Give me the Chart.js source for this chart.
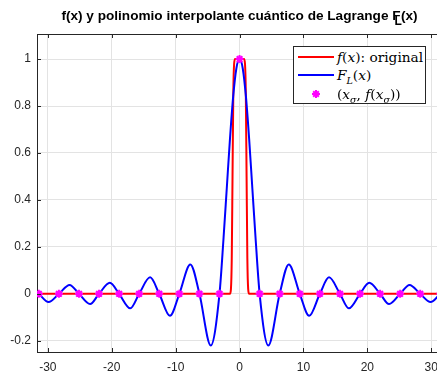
<!DOCTYPE html>
<html>
<head>
<meta charset="utf-8">
<script src="https://cdn.jsdelivr.net/npm/chart.js@4"></script>
<style>
  html, body { margin: 0; padding: 0; background: #fff; overflow: hidden; }
  #wrap { position: relative; width: 437px; height: 374px; overflow: hidden; }
  #holder { position: absolute; left: 0; top: 0; width: 437px; height: 374px; }
  #title {
    position: absolute; top: 8px; left: 0; width: 479px; text-align: center;
    font: bold 13.6px "Liberation Sans", Arial, sans-serif; color: #000; white-space: nowrap;
  }
  #title sub { font-size: 12px; vertical-align: -5px; line-height: 0; margin-left: -6px; margin-right: -1px; }
  #legend {
    position: absolute; left: 293px; top: 46px; width: 133px; height: 58px;
    border: 1px solid #262626; background: #fff; box-sizing: border-box;
    font: 13.7px "DejaVu Serif", "Liberation Serif", serif; color: #000;
  }
  .row { position: absolute; left: 0; width: 100%; height: 18px; }
  .swatch { position: absolute; left: 4px; width: 36px; height: 2px; top: 8px; }
  .lbl { position: absolute; left: 43px; top: 0; line-height: 18px; white-space: nowrap; }
  .lbl sub { font-size: 9.5px; line-height: 0; }
  .mark { position: absolute; left: 17px; top: 4px; }
</style>
</head>
<body>
<div id="wrap">
  <div id="holder"><canvas id="plot" width="437" height="374"></canvas></div>
  <div id="title">f(x) y polinomio interpolante cuántico de Lagrange F<sub>L</sub>(x)</div>
  <div id="legend">
    <div class="row" style="top:1px">
      <div class="swatch" style="background:#ff0000"></div>
      <div class="lbl"><i>f</i>(<i>x</i>): original</div>
    </div>
    <div class="row" style="top:19px">
      <div class="swatch" style="background:#0000ff"></div>
      <div class="lbl"><i>F<sub>L</sub></i>(<i>x</i>)</div>
    </div>
    <div class="row" style="top:38px">
      <svg class="mark" width="10" height="10" viewBox="0 0 10 10">
        <g stroke="#ff00ff" stroke-width="2">
          <line x1="5" y1="1" x2="5" y2="9"/><line x1="1" y1="5" x2="9" y2="5"/>
          <line x1="2.2" y1="2.2" x2="7.8" y2="7.8"/><line x1="7.8" y1="2.2" x2="2.2" y2="7.8"/>
        </g>
      </svg>
      <div class="lbl">(<i>x<sub>σ</sub></i>, <i>f</i>(<i>x<sub>σ</sub></i>))</div>
    </div>
  </div>
</div>
<script>
// interpolation nodes
const nodeX = [-31.42, -28.27, -25.13, -21.99, -18.85, -15.71, -12.57, -9.42, -6.28, -3.14, 0,
               3.14, 6.28, 9.42, 12.57, 15.71, 18.85, 21.99, 25.13, 28.27, 31.42];
const nodeY = [0, 0, 0, 0, 0, 0, 0, 0, 0, 0, 1, 0, 0, 0, 0, 0, 0, 0, 0, 0, 0];

// original function f(x): narrow pulse around 0
const fX = [-31.42, -1.5, -1.35, -1.22, -1.1, -0.98, -0.85, -0.7, 0.7, 0.85, 0.98, 1.1, 1.22, 1.35, 1.5, 31.42];
const fY = [0, 0, 0.02, 0.15, 0.5, 0.85, 0.98, 1, 1, 0.98, 0.85, 0.5, 0.15, 0.02, 0, 0];

// interpolant F_L(x): zeros and extrema
const interpX = [-31.42, -29.9, -28.27, -26.6, -25.13, -23.4, -21.99, -20.3, -18.85, -17.1, -15.71, -14.0,
                 -12.57, -10.9, -9.42, -7.7, -6.28, -4.5, -3.14, -2.5, -2, -1.5, -1, -0.5, 0,
                 0.5, 1, 1.5, 2, 2.5, 3.14, 4.5, 6.28, 7.7, 9.42, 10.9, 12.57, 14.0, 15.71,
                 17.1, 18.85, 20.3, 21.99, 23.4, 25.13, 26.6, 28.27, 29.9, 31.42];
const interpY = [0, -0.035, 0, 0.038, 0, -0.044, 0, 0.047, 0, -0.062, 0, 0.07,
                 0, -0.094, 0, 0.125, 0, -0.22, 0, 0.24, 0.45, 0.66, 0.84, 0.96, 1,
                 0.96, 0.84, 0.66, 0.45, 0.24, 0, -0.22, 0, 0.125, 0, -0.094, 0, 0.07, 0,
                 -0.062, 0, 0.047, 0, -0.044, 0, 0.038, 0, -0.035, 0];

const xTicks = [-30, -20, -10, 0, 10, 20, 30];
const yTicks = [-0.2, 0, 0.2, 0.4, 0.6, 0.8, 1];

function pts(xs, ys) {
    return xs.map((x, i) => ({ x: x, y: ys[i] }));
}

const axisColor = '#262626';

// top border plus inward tick marks
const frameTicks = {
    id: 'frameTicks',
    afterDraw(chart) {
        const ctx = chart.ctx;
        const a = chart.chartArea;
        const sx = chart.scales.x, sy = chart.scales.y;
        ctx.save();
        ctx.strokeStyle = axisColor;
        ctx.lineWidth = 1;
        ctx.beginPath();
        ctx.moveTo(a.left, a.top + 0.5);
        ctx.lineTo(a.right, a.top + 0.5);
        xTicks.forEach(t => {
            const px = Math.round(sx.getPixelForValue(t)) + 0.5;
            ctx.moveTo(px, a.bottom);
            ctx.lineTo(px, a.bottom - 4);
            ctx.moveTo(px, a.top);
            ctx.lineTo(px, a.top + 4);
        });
        yTicks.forEach(t => {
            const py = Math.round(sy.getPixelForValue(t)) + 0.5;
            ctx.moveTo(a.left, py);
            ctx.lineTo(a.left + 4, py);
        });
        ctx.stroke();
        ctx.restore();
    }
};

new Chart(document.getElementById('plot'), {
    type: 'line',
    data: {
        datasets: [
            {
                label: '(x_σ, f(x_σ))',
                data: pts(nodeX, nodeY),
                showLine: false,
                pointStyle: 'star',
                pointRadius: 4,
                pointBorderWidth: 2,
                pointBorderColor: '#ff00ff',
                pointBackgroundColor: '#ff00ff',
                order: 0
            },
            {
                label: 'F_L(x)',
                data: pts(interpX, interpY),
                borderColor: '#0000ff',
                borderWidth: 2,
                pointRadius: 0,
                cubicInterpolationMode: 'monotone',
                fill: false,
                order: 1
            },
            {
                label: 'f(x): original',
                data: pts(fX, fY),
                borderColor: '#ff0000',
                borderWidth: 2,
                pointRadius: 0,
                cubicInterpolationMode: 'monotone',
                fill: false,
                order: 2
            }
        ]
    },
    options: {
        responsive: false,
        animation: false,
        events: [],
        layout: { autoPadding: false, padding: { top: 34, right: 0, left: 0, bottom: 0 } },
        plugins: { legend: { display: false }, tooltip: { enabled: false }, title: { display: false } },
        scales: {
            x: {
                type: 'linear',
                // right side of the axes runs past the canvas edge
                min: -31.7,
                max: 30.9,
                afterBuildTicks: s => { s.ticks = xTicks.map(v => ({ value: v })); },
                afterFit: s => { s.height = 22; s.paddingLeft = 0; s.paddingRight = 0; },
                grid: { color: '#e3e3e3', drawTicks: false },
                border: { color: axisColor, width: 1 },
                ticks: {
                    padding: 8,
                    color: axisColor,
                    maxRotation: 0,
                    font: { family: '"Liberation Sans", Arial, sans-serif', size: 12 }
                }
            },
            y: {
                min: -0.248,
                max: 1.107,
                afterBuildTicks: s => { s.ticks = yTicks.map(v => ({ value: v })); },
                afterFit: s => { s.width = 37; s.paddingTop = 0; s.paddingBottom = 0; },
                grid: { color: '#e3e3e3', drawTicks: false },
                border: { color: axisColor, width: 1 },
                ticks: {
                    padding: 6,
                    color: axisColor,
                    callback: v => String(Math.round(v * 10) / 10),
                    font: { family: '"Liberation Sans", Arial, sans-serif', size: 12 }
                }
            }
        }
    },
    plugins: [frameTicks]
});
</script>
</body>
</html>
